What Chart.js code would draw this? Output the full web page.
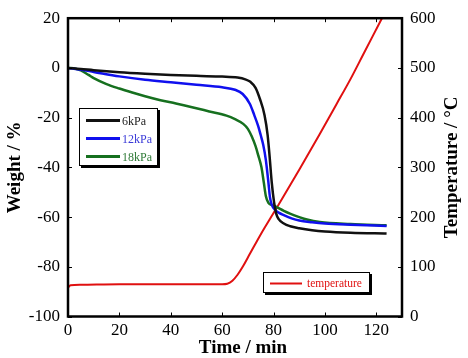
<!DOCTYPE html>
<html>
<head>
<meta charset="utf-8">
<script src="https://cdn.jsdelivr.net/npm/chart.js@4.4.1/dist/chart.umd.min.js"></script>
<style>
html,body{margin:0;padding:0;background:#fff;}
#wrap{width:468px;height:358px;}
</style>
</head>
<body>
<div id="wrap"><canvas id="c" width="468" height="358"></canvas></div>
<script>
// ---- data ----
const seriesLabels = ['6kPa', '12kPa', '18kPa'];
const time6 = [0, 5, 10, 20, 30, 40, 50, 60, 66, 69, 71, 73, 74.7, 76.5, 77.7, 78.5, 79.3, 80.2, 81, 82, 84, 86.5, 90, 95, 100, 110, 124];
const weight6 = [0, -0.4, -0.9, -1.7, -2.3, -2.8, -3.2, -3.5, -3.9, -4.6, -5.6, -8, -12.5, -19, -27, -36, -46, -54, -58.5, -60.8, -62.6, -63.7, -64.5, -65.3, -65.8, -66.3, -66.6];
const time12 = [0, 5, 10, 20, 30, 40, 50, 60, 65, 68, 70.8, 72.5, 74, 75, 76, 77, 78, 78.6, 79.3, 80.5, 82, 84, 87, 90, 95, 100, 110, 124];
const weight12 = [0, -0.7, -1.6, -3.4, -4.8, -5.8, -6.8, -7.8, -8.8, -10.5, -14.5, -19, -23.3, -27, -31, -37, -46, -52, -55, -57, -58.2, -59.2, -60.5, -61.4, -62.1, -62.6, -63.1, -63.6];
const time18 = [0, 3, 5, 8, 10, 15, 20, 25, 30, 36, 42, 48.7, 55, 61.7, 65, 68.2, 70, 71.5, 73, 74, 75.3, 76.2, 77, 78, 79.5, 81.2, 84, 86.4, 90, 93, 98, 110, 124];
const weight18 = [0, -0.3, -1.0, -2.8, -4.1, -6.5, -8.3, -9.9, -11.4, -13, -14.3, -15.9, -17.5, -19.2, -20.6, -22.5, -24.5, -27.5, -31.5, -35, -40, -46, -51.5, -54.3, -55.2, -56, -57.5, -58.6, -60, -61, -62, -62.8, -63.3];
const tempLabel = 'temperature';
const timeT = [0, 1, 5, 20, 40, 60, 62, 64, 66, 68, 70.8, 75, 80, 90, 98, 104.5, 110, 115, 122.2];
const tempC = [58, 63, 64, 65, 65, 65, 66, 72, 84, 100, 126, 165, 208, 295, 367, 427, 478, 528, 600];
const xTicks = [0, 20, 40, 60, 80, 100, 120];
const yTicks = [-100, -80, -60, -40, -20, 0, 20];
const y2Ticks = [0, 100, 200, 300, 400, 500, 600];

function pts(xs, ys) { return xs.map((x, i) => ({x: x, y: ys[i]})); }

const SERIF = "'Liberation Serif', 'Times New Roman', serif";
const colors = ['#111111', '#1010ee', '#16701f'];
const textColors = ['#222222', '#3a3ad8', '#2f7a37'];
const red = '#e01010';

const decor = {
  id: 'decor',
  afterDraw(chart) {
    const ctx = chart.ctx;
    const a = chart.chartArea;
    const sx = chart.scales.x, sy = chart.scales.y, sy2 = chart.scales.y2;
    ctx.save();
    // inward ticks
    ctx.strokeStyle = '#000';
    ctx.lineWidth = 1;
    const tl = 4;
    ctx.beginPath();
    xTicks.forEach(v => {
      const px = Math.round(sx.getPixelForValue(v)) + 0.5;
      ctx.moveTo(px, a.bottom); ctx.lineTo(px, a.bottom - tl);
      ctx.moveTo(px, a.top); ctx.lineTo(px, a.top + tl);
    });
    yTicks.forEach(v => {
      const py = Math.round(sy.getPixelForValue(v)) + 0.5;
      ctx.moveTo(a.left, py); ctx.lineTo(a.left + tl, py);
    });
    y2Ticks.forEach(v => {
      const py = Math.round(sy2.getPixelForValue(v)) + 0.5;
      ctx.moveTo(a.right, py); ctx.lineTo(a.right - tl, py);
    });
    ctx.stroke();
    // frame
    ctx.lineWidth = 2.5;
    ctx.strokeStyle = '#000';
    ctx.strokeRect(a.left, a.top, a.right - a.left, a.bottom - a.top);

    // axis titles
    ctx.fillStyle = '#000';
    ctx.font = 'bold 19px ' + SERIF;
    ctx.textAlign = 'center';
    ctx.textBaseline = 'middle';
    ctx.fillText('Time / min', 243, 348);
    ctx.save();
    ctx.translate(15, (a.top + a.bottom) / 2);
    ctx.rotate(-Math.PI / 2);
    ctx.fillText('Weight / %', 0, 0);
    ctx.restore();
    ctx.save();
    ctx.translate(452, (a.top + a.bottom) / 2);
    ctx.rotate(-Math.PI / 2);
    ctx.fillText('Temperature / °C', 0, 0);
    ctx.restore();

    // legend boxes
    function box(x1, y1, x2, y2) {
      ctx.fillStyle = '#000';
      ctx.fillRect(x1 + 2, y1 + 2, x2 - x1, y2 - y1);
      ctx.fillStyle = '#fff';
      ctx.fillRect(x1, y1, x2 - x1, y2 - y1);
      ctx.lineWidth = 1;
      ctx.strokeStyle = '#000';
      ctx.strokeRect(x1 + 0.5, y1 + 0.5, x2 - x1 - 1, y2 - y1 - 1);
    }
    box(79, 108, 158, 166);
    ctx.font = '12px ' + SERIF;
    ctx.textAlign = 'left';
    ctx.textBaseline = 'middle';
    const ds = chart.data.datasets;
    [120.5, 138.5, 156.5].forEach((yy, i) => {
      ctx.strokeStyle = ds[i].borderColor;
      ctx.lineWidth = 3;
      ctx.beginPath(); ctx.moveTo(86, yy); ctx.lineTo(120, yy); ctx.stroke();
      ctx.fillStyle = textColors[i];
      ctx.fillText(ds[i].label, 122, yy + 1);
    });
    box(263, 272, 370, 293);
    ctx.strokeStyle = red;
    ctx.lineWidth = 2;
    ctx.beginPath(); ctx.moveTo(270, 283.5); ctx.lineTo(302, 283.5); ctx.stroke();
    ctx.fillStyle = red;
    ctx.font = '11.5px ' + SERIF;
    ctx.fillText(ds[3].label, 307, 284);
    ctx.restore();
  }
};

const tickFont = {family: SERIF, size: 17};
new Chart(document.getElementById('c'), {
  type: 'line',
  data: {
    datasets: [
      {label: seriesLabels[0], data: pts(time6, weight6), borderColor: colors[0], borderWidth: 2.5, yAxisID: 'y'},
      {label: seriesLabels[1], data: pts(time12, weight12), borderColor: colors[1], borderWidth: 2.5, yAxisID: 'y'},
      {label: seriesLabels[2], data: pts(time18, weight18), borderColor: colors[2], borderWidth: 2.5, yAxisID: 'y'},
      {label: tempLabel, data: pts(timeT, tempC), borderColor: red, borderWidth: 2, yAxisID: 'y2'}
    ]
  },
  options: {
    responsive: false,
    animation: false,
    events: [],
    elements: {point: {radius: 0}, line: {cubicInterpolationMode: 'monotone', fill: false}},
    layout: {padding: {top: 12.5, left: 0, right: 0, bottom: 0}},
    plugins: {legend: {display: false}, tooltip: {enabled: false}, title: {display: false}},
    scales: {
      x: {
        type: 'linear', min: 0, max: 130,
        afterBuildTicks: s => { s.ticks = xTicks.map(v => ({value: v})); },
        afterFit: s => { s.height = 41.5; },
        grid: {display: false, drawTicks: false},
        border: {display: false},
        ticks: {font: tickFont, color: '#000', padding: 4, maxRotation: 0}
      },
      y: {
        type: 'linear', position: 'left', min: -100, max: 20,
        afterBuildTicks: s => { s.ticks = yTicks.map(v => ({value: v})); },
        afterFit: s => { s.width = 68; },
        grid: {display: false, drawTicks: false},
        border: {display: false},
        ticks: {font: tickFont, color: '#000', padding: 8}
      },
      y2: {
        type: 'linear', position: 'right', min: 0, max: 600,
        afterBuildTicks: s => { s.ticks = y2Ticks.map(v => ({value: v})); },
        afterFit: s => { s.width = 66; },
        grid: {display: false, drawTicks: false},
        border: {display: false},
        ticks: {font: tickFont, color: '#000', padding: 8}
      }
    }
  },
  plugins: [decor]
});
</script>
</body>
</html>
